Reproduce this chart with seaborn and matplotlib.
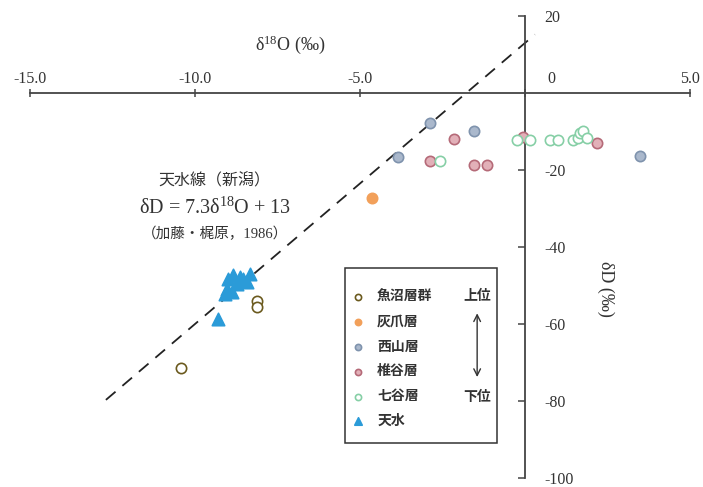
import numpy as np
import pandas as pd
import seaborn as sns
import matplotlib.pyplot as plt
from matplotlib.patches import Rectangle
from matplotlib.transforms import ScaledTranslation

sns.set_theme(style='white')
plt.rcParams['font.family'] = ['Liberation Serif', 'Noto Sans CJK JP', 'DejaVu Sans']
plt.rcParams['mathtext.fontset'] = 'custom'
plt.rcParams['mathtext.rm'] = 'Liberation Serif'
plt.rcParams['mathtext.default'] = 'rm'

# data (d18O, dD in permil)
uonuma_x = [-10.42, -8.12, -8.12]
uonuma_y = [-71.4, -53.9, -55.7]

haizume_x = [-4.64]
haizume_y = [-27.3]

nishiyama_x = [-2.88, -1.55, -3.85, 3.48]
nishiyama_y = [-7.8, -9.9, -16.7, -16.4]

shiiya_x = [-2.15, -2.88, -1.55, -1.15, -0.06, 2.18]
shiiya_y = [-12.0, -17.7, -18.8, -18.8, -11.5, -13.0]

nanatani_x = [-2.58, -0.24, 0.15, 0.76, 1.0, 1.45, 1.6, 1.67, 1.76, 1.88]
nanatani_y = [-17.7, -12.2, -12.2, -12.2, -12.2, -12.2, -11.7, -10.4, -9.9, -11.7]

rain_x = [-9.0, -8.85, -8.64, -8.33, -8.42, -9.03, -9.09, -8.88, -8.73, -8.55, -9.30]
rain_y = [-48.2, -47.4, -47.7, -46.9, -49.0, -50.8, -52.1, -51.6, -49.5, -48.2, -58.6]

# meteoric water line dD = 7.3 d18O + 13 (Kato & Kajihara 1986)
mwl_x = np.array([-12.7, 0.3])
mwl_y = 7.3 * mwl_x + 13

x_ticks = [-15, -10, -5, 0, 5]
x_ticklabels = ['-15.0', '-10.0', '-5.0', '0', '5.0']
y_ticks = [20, -20, -40, -60, -80, -100]
y_ticklabels = ['20', '-20', '-40', '-60', '-80', '-100']

groups = [
    ('魚沼層群', uonuma_x, uonuma_y, dict(marker='o', facecolor='white', edgecolor='#6b5a1e', s=55)),
    ('灰爪層', haizume_x, haizume_y, dict(marker='o', facecolor='#f2a05a', edgecolor='#f2a05a', s=55)),
    ('西山層', nishiyama_x, nishiyama_y, dict(marker='o', facecolor='#aab8cc', edgecolor='#7f93ad', s=55)),
    ('椎谷層', shiiya_x, shiiya_y, dict(marker='o', facecolor='#e2b0b8', edgecolor='#b56a78', s=55)),
    ('七谷層', nanatani_x, nanatani_y, dict(marker='o', facecolor='white', edgecolor='#86cfa6', s=55)),
    ('天水', rain_x, rain_y, dict(marker='^', facecolor='#2b9bd8', edgecolor='#2b9bd8', s=80)),
]

fig = plt.figure(figsize=(7.03, 4.87), dpi=100)
ax = fig.add_axes([30 / 703, 9 / 487, 660 / 703, 462 / 487])

sns.lineplot(x=mwl_x, y=mwl_y, ax=ax, color='#222222', lw=1.3, dashes=False,
             linestyle=(0, (7, 5)), zorder=2)

for name, xs, ys, st in groups:
    df = pd.DataFrame({'x': xs, 'y': ys})
    sns.scatterplot(data=df, x='x', y='y', ax=ax, label=name, marker=st['marker'],
                    facecolor=st['facecolor'], edgecolor=st['edgecolor'],
                    linewidth=1.2, s=st['s'], zorder=3)

ax.set_xlim(-15, 5)
ax.set_ylim(-100, 20)
ax.set_xlabel('')
ax.set_ylabel('')

axis_col = '#444444'
for sp in ['bottom', 'left']:
    ax.spines[sp].set_visible(False)
ax.spines['top'].set_position(('data', 0))
ax.spines['right'].set_position(('data', 0))
for sp in ['top', 'right']:
    ax.spines[sp].set_color(axis_col)
    ax.spines[sp].set_linewidth(1.3)

ax.xaxis.set_ticks_position('top')
ax.xaxis.set_label_position('top')
ax.set_xticks(x_ticks)
ax.set_xticklabels(x_ticklabels)
ax.tick_params(axis='x', direction='inout', length=6, width=1.1, color=axis_col,
               pad=1, labelsize=11.5, labelcolor='#333333')
# the "0" label sits to the right of the vertical axis
for lab in ax.get_xticklabels():
    if lab.get_text() == '0':
        lab.set_transform(lab.get_transform() + ScaledTranslation(26 / 100, 0, fig.dpi_scale_trans))

ax.yaxis.set_ticks_position('right')
ax.set_yticks(y_ticks)
ax.set_yticklabels(y_ticklabels)
ax.tick_params(axis='y', direction='in', length=5, width=1.1, color=axis_col,
               pad=14, labelsize=11.5, labelcolor='#333333')
for lab in ax.get_yticklabels():
    lab.set_horizontalalignment('left')

ax.text(-7.1, 12.5, 'δ$^{18}$O (‰)', fontsize=13, ha='center', va='center', color='#333333')
ax.text(2.45, -51, 'δD (‰)', fontsize=13, ha='center', va='center', rotation=270, color='#333333')

ax.text(-9.4, -23, '天水線（新潟）', fontsize=11.5, ha='center', va='center', color='#333333')
ax.text(-9.4, -30.0, 'δD = 7.3δ$^{18}$O + 13', fontsize=14.5, ha='center', va='center', color='#333333')
ax.text(-9.4, -36.5, '（加藤・梶原，1986）', fontsize=10.5, ha='center', va='center', color='#333333')

# legend box
ax.add_patch(Rectangle((0.477, 0.0758), 0.2305, 0.379, transform=ax.transAxes,
                       facecolor='white', edgecolor='#333333', lw=1.1, zorder=4))
leg = ax.legend(loc='upper left', bbox_to_anchor=(0.486, 0.407), frameon=False,
                borderpad=0, borderaxespad=0, handlelength=1.0, handletextpad=0.9,
                labelspacing=0.78, markerscale=0.6,
                prop={'family': ['Noto Sans CJK JP'], 'size': 10, 'weight': 'bold'})
leg.set_zorder(5)
for t in leg.get_texts():
    t.set_color('#333333')

ax.text(-1.45, -52.6, '上位', fontsize=10, ha='center', va='center', color='#333333',
        family=['Noto Sans CJK JP'], fontweight='bold', zorder=6)
ax.text(-1.45, -78.9, '下位', fontsize=10, ha='center', va='center', color='#333333',
        family=['Noto Sans CJK JP'], fontweight='bold', zorder=6)
ax.annotate('', xy=(-1.45, -74.5), xytext=(-1.45, -56.5),
            arrowprops=dict(arrowstyle='<->', color='#333333', lw=1.0), zorder=6)

fig.savefig('out.png', dpi=100)
